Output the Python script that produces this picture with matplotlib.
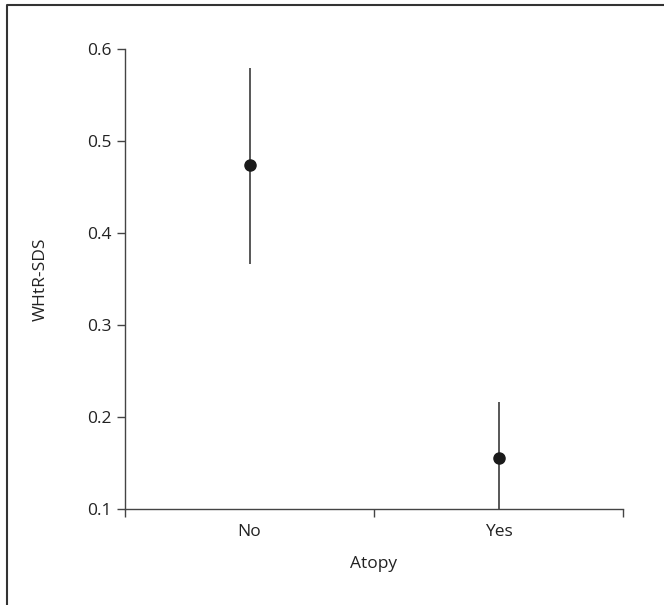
import matplotlib
matplotlib.use('Agg')

import numpy as np
import matplotlib.pyplot as plt
from matplotlib.lines import Line2D

# data
groups = ['No', 'Yes']
means = [0.474, 0.155]
upper = [0.579, 0.216]
lower = [0.366, 0.094]

plt.rcParams['font.family'] = ['Open Sans', 'DejaVu Sans']

W, H = 664, 605
fig = plt.figure(figsize=(W / 100, H / 100), dpi=100)
ax = fig.add_axes([125 / W, 1 - 509 / H, (623 - 125) / W, (509 - 49) / H])

x = np.arange(len(groups)) + 0.5
m = np.array(means)
yerr = [m - np.array(lower), np.array(upper) - m]
ax.errorbar(x, m, yerr=yerr, fmt='o', color='#1a1a1a', ecolor='#2a2a2a',
            elinewidth=1.1, markersize=8, capsize=0)

ax.set_xlim(0, len(groups))
ax.set_ylim(0.1, 0.6)
ax.set_yticks(np.arange(0.1, 0.61, 0.1))
ax.set_yticklabels(['{:.1f}'.format(v) for v in np.arange(0.1, 0.61, 0.1)])
ax.set_xticks(np.arange(len(groups) + 1))
ax.set_xticklabels([])
ax.set_xticks(x, minor=True)
ax.set_xticklabels(groups, minor=True)
ax.tick_params(axis='x', which='minor', length=0, pad=11)
ax.tick_params(axis='both', which='major', length=6, width=1, color='#444444',
               labelsize=12.5, labelcolor='#222222')
ax.tick_params(axis='x', which='minor', labelsize=12.5, labelcolor='#222222')

for s in ['top', 'right']:
    ax.spines[s].set_visible(False)
for s in ['left', 'bottom']:
    ax.spines[s].set_color('#444444')
    ax.spines[s].set_linewidth(1)

ax.set_xlabel('Atopy', fontsize=12.5, color='#222222', labelpad=11)
ax.set_ylabel('WHtR-SDS', fontsize=12.5, color='#222222', labelpad=28)

# frame around the figure (only top and left visible in reference)
fig.add_artist(Line2D([7 / W, 7 / W, 1], [0, 1 - 5 / H, 1 - 5 / H],
                      transform=fig.transFigure, color='#333333', lw=1.5))

fig.savefig('out.png', dpi=100)
